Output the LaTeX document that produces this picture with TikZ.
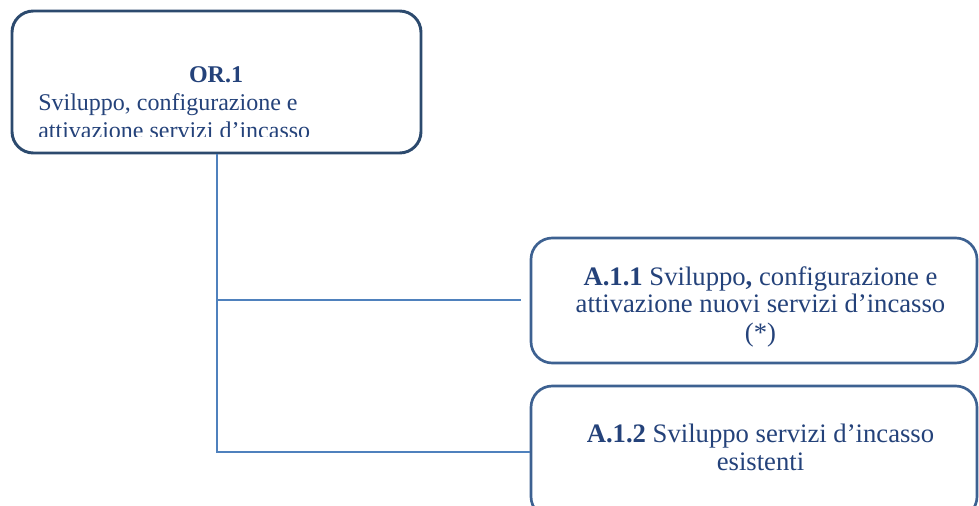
\documentclass[tikz,border=0pt]{standalone}
\usepackage{fontspec}
\setmainfont{Liberation Serif}
\definecolor{txtc}{HTML}{24427A}
\definecolor{topb}{HTML}{2C4A6E}
\definecolor{subb}{HTML}{3D6191}
\definecolor{linec}{HTML}{4F81BD}
\tikzset{
  orbox/.style={draw=topb, line width=2.2pt, rounded corners=16pt, rectangle, inner sep=0pt, fill=white},
  actbox/.style={draw=subb, line width=2pt, rounded corners=16pt, rectangle, inner sep=0pt, fill=white},
  conn/.style={draw=linec, line width=1.5pt},
  toptxt/.style={text=txtc, inner sep=0pt, font=\fontsize{18pt}{20pt}\selectfont},
  subtxt/.style={text=txtc, inner sep=0pt, font=\fontsize{20pt}{20pt}\selectfont}
}
\begin{document}
\begin{tikzpicture}[x=0.75pt, y=-0.75pt]
\useasboundingbox (0,0) rectangle (979,506);
\clip (0,0) rectangle (979,506);
% boxes
\node[orbox, minimum width=409*0.75pt, minimum height=142*0.75pt] (or) at (216.5,82) {};
\node[actbox, minimum width=446*0.75pt, minimum height=125*0.75pt] (a11) at (754,300.5) {};
\node[actbox, minimum width=446*0.75pt, minimum height=132*0.75pt] (a12) at (754,452) {};
% connectors
\coordinate (e1) at (521,300.5);
\draw[conn] (or.south) |- (a12.west);
\draw[conn] (or.south |- e1) -- (e1);
% top box text (clipped at bottom as in the original)
\begin{scope}
\clip (0,0) rectangle (979,136.5);
\node[toptxt, anchor=base] (t0) at (216,83) {\textbf{OR.1}};
\node[toptxt, anchor=base west] (t1) at (38,110.5) {Sviluppo, configurazione e};
\node[toptxt, anchor=base west] (t2) at (38,138.5) {attivazione servizi d’incasso};
\end{scope}
% A.1.1 text
\node[subtxt, anchor=base] (s1) at (760.5,285.5) {\textbf{A.1.1} Sviluppo\textbf{,} configurazione e};
\node[subtxt, anchor=base] (s2) at (760.5,312.5) {attivazione nuovi servizi d’incasso};
\node[subtxt, anchor=base] (s3) at (760.5,341) {(*)};
% A.1.2 text
\node[subtxt, anchor=base] (u1) at (760.5,442.5) {\textbf{A.1.2} Sviluppo servizi d’incasso};
\node[subtxt, anchor=base] (u2) at (760.5,470) {esistenti};
\end{tikzpicture}
\end{document}
